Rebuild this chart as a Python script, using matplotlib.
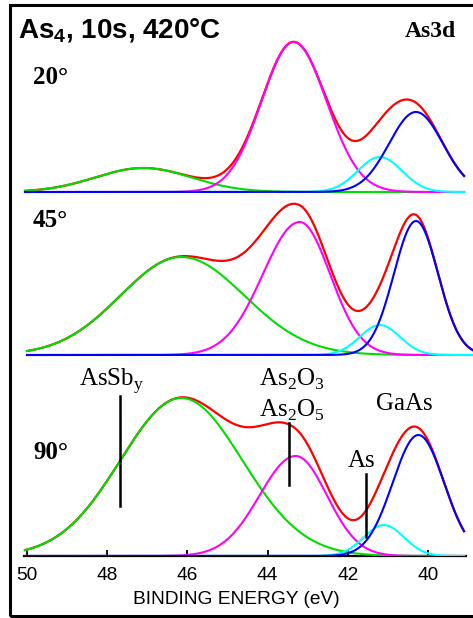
import numpy as np
import matplotlib
matplotlib.use("Agg")
import matplotlib.pyplot as plt
from matplotlib.patches import Rectangle

plt.rcParams['mathtext.fontset'] = 'custom'
plt.rcParams['mathtext.rm'] = 'Liberation Serif'
plt.rcParams['mathtext.bf'] = 'Liberation Sans:bold'

# fitted peak components: AsSb_y, As2O3/As2O5, As, GaAs
# center (eV), height, sigma on the high-energy side, sigma on the low-energy side
angles = ['20°', '45°', '90°']
colors = ['#00dd00', '#ff00ff', '#00ffff', '#0000ff']

centers_20 = [47.1, 43.35, 41.2, 40.3]
heights_20 = [24, 150, 35, 80]
wleft_20 = [1.2, 0.8, 0.55, 0.67]
wright_20 = [1.2, 0.82, 0.55, 0.67]

centers_45 = [46.15, 43.2, 41.2, 40.3]
heights_45 = [98, 133, 30, 134]
wleft_45 = [1.52, 0.92, 0.5, 0.55]
wright_45 = [1.57, 0.76, 0.5, 0.55]

centers_90 = [46.15, 43.3, 41.1, 40.24]
heights_90 = [158, 100, 31, 121]
wleft_90 = [1.52, 0.9, 0.5, 0.64]
wright_90 = [1.52, 0.78, 0.5, 0.64]

e_start = [50.05, 50.0, 50.05]
e_end = [39.1, 38.88, 39.1]

# marker lines in the 90° panel: energy, low, high
mark_e = [47.67, 43.47, 41.55]
mark_lo = [50, 71, 19]
mark_hi = [160, 133, 82]

ticks = [50, 48, 46, 44, 42, 40]

panels = [(centers_20, heights_20, wleft_20, wright_20),
          (centers_45, heights_45, wleft_45, wright_45),
          (centers_90, heights_90, wleft_90, wright_90)]
offsets = [364, 201, 0]

fig = plt.figure(figsize=(4.73, 6.18), dpi=100)
ax = fig.add_axes([0, 62 / 618, 1, 551 / 618])
ax.set_xlim(50 + 27 / 40.1, 50 - 446 / 40.1)
ax.set_ylim(0, 551)
ax.patch.set_alpha(0)

for k, (c, h, wl, wr) in enumerate(panels):
    e = np.linspace(e_start[k], e_end[k], 700)
    comps = []
    for cc, hh, a, b in zip(c, h, wl, wr):
        s = np.where(e > cc, a, b)
        comps.append(hh * np.exp(-(e - cc) ** 2 / (2 * s ** 2)))
    total = np.sum(comps, axis=0)
    off = offsets[k]
    ax.plot(e, total + off, color='#ff0000', lw=1.6, zorder=3)
    for comp, col in zip(comps, colors):
        ax.plot(e, comp + off, color=col, lw=1.5, zorder=4)

for xe, lo, hi in zip(mark_e, mark_lo, mark_hi):
    ax.plot([xe, xe], [lo, hi], color='black', lw=1.8, zorder=5)

for sp in ['left', 'right', 'top']:
    ax.spines[sp].set_visible(False)
ax.spines['bottom'].set_linewidth(1.6)
ax.spines['bottom'].set_bounds(50.07, 39.05)
ax.spines['bottom'].set_zorder(1)
ax.set_yticks([])
ax.set_xticks(ticks)
ax.set_xticklabels([str(t) for t in ticks], family='Liberation Sans', fontsize=13.8)
ax.tick_params(axis='x', direction='in', length=4, width=1.3, pad=8)
ax.set_xlabel('BINDING ENERGY (eV)', family='Liberation Sans', fontsize=13.8, labelpad=5)

# labels
serif = {'family': 'Liberation Serif', 'fontsize': 18}
ax.text(47.9, 170, r'AsSb$_\mathrm{y}$', ha='center', va='baseline', **serif)
ax.text(43.4, 170, r'As$_\mathrm{2}$O$_\mathrm{3}$', ha='center', va='baseline', **serif)
ax.text(43.4, 139, r'As$_\mathrm{2}$O$_\mathrm{5}$', ha='center', va='baseline', **serif)
ax.text(40.6, 146, 'GaAs', ha='center', va='baseline', **serif)
ax.text(41.65, 89, 'As', ha='center', va='baseline', **serif)

label_y = [556 - 84, 556 - 227, 556 - 459]
for a, yy in zip(angles, label_y):
    ax.text(49.85, yy, a, ha='left', va='baseline', family='Liberation Serif',
            fontsize=18, fontweight='bold')

fig.text(405 / 473, 1 - 37 / 618, 'As3d', ha='left', va='baseline',
         family='Liberation Serif', fontsize=17, fontweight='bold')
fig.text(18 / 473, 1 - 37 / 618, r'$\mathbf{As_4}$, 10s, 420°C', ha='left', va='baseline',
         family='Liberation Sans', fontsize=20, fontweight='bold')

fig.patches.append(Rectangle((10 / 473, 2 / 618), 1.0, 611 / 618, transform=fig.transFigure,
                             fill=False, edgecolor='black', lw=2.2, figure=fig))

fig.savefig('out.png', dpi=100)
